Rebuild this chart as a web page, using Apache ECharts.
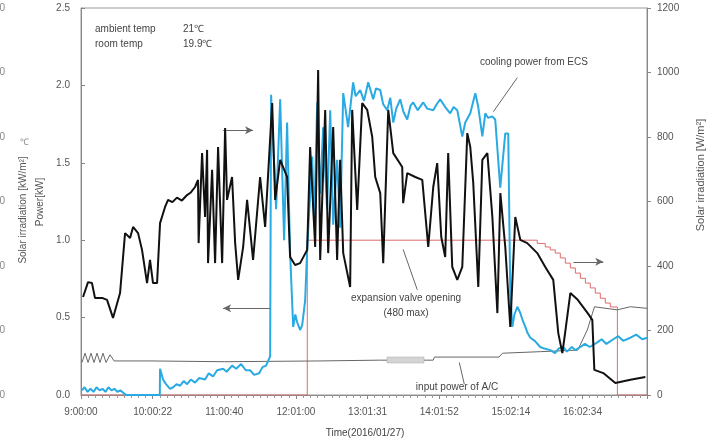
<!DOCTYPE html>
<html><head><meta charset="utf-8">
<script src="https://cdn.jsdelivr.net/npm/echarts@6/dist/echarts.min.js"></script>
<style>html,body{margin:0;padding:0;background:#fff}#c{width:715px;height:441px}</style>
</head><body><div id="c"></div>
<script>
// x values: minutes after 9:00:00
const timeLabels = ['9:00:00','10:00:22','11:00:40','12:01:00','13:01:31','14:01:52','15:02:14','16:02:34'];
const leftTicks = [0,0.5,1.0,1.5,2.0,2.5];
const rightTicks = [0,200,400,600,800,1000,1200];

// Solar irradiation [W/m2] (right axis)
const solarIrr = [[1.7,304],[5.9,350],[9.2,347],[11.7,301],[17.6,301],[21.8,295],[26.8,239],[32.7,316],[36.9,502],[41.1,487],[43.6,521],[47.8,502],[51.1,450],[55.3,347],[57.8,419],[60.3,347],[63.7,347],[66.2,533],[70.4,583],[72.9,605],[76.5,598],[80.4,612],[84.5,603],[88.8,620],[92,628],[95.5,645],[98.0,667],[98.5,471],[101.4,750],[103.9,552],[105.6,760],[106.4,409],[109.8,698],[112.3,409],[114.8,769],[118.2,409],[120.7,828],[122.3,605],[126.5,676],[129.1,471],[131.6,357],[135.8,459],[139.1,605],[144.1,419],[150.0,676],[154.2,521],[160.1,905],[162.6,605],[166.8,729],[172.6,676],[175.1,428],[179.3,403],[183.5,409],[189.4,450],[191.9,769],[196.1,459],[198.6,1008],[200.3,419],[204.5,884],[207.0,440],[211.2,831],[214.5,419],[217.0,729],[219.6,440],[225.4,335],[227.1,884],[231.3,574],[235.5,905],[239.7,884],[243.9,800],[246.4,676],[250.6,626],[253.1,409],[257.3,884],[261.5,750],[269.0,707],[269.8,595],[273.2,688],[279.9,676],[285.8,667],[290.8,459],[295.0,645],[298.3,719],[301.7,490],[305.0,428],[307.5,750],[310.9,397],[315.1,357],[319.3,397],[323.5,812],[326.0,769],[328.5,657],[332.7,335],[336.1,729],[340.3,750],[344.5,552],[348.7,254],[351.2,626],[355.3,459],[359.5,211],[363.7,552],[367.9,481],[373.7,471],[382.1,440],[388.8,397],[395.5,357],[399.7,192],[403.1,130],[405.4,192],[409.8,316],[416.0,295],[424.3,254],[428.2,233],[429.9,78],[437.4,68],[447.5,37],[460.1,47],[472.6,56]];

// Cooling power from ECS [kW] (left axis)
const coolingPower = [[0.8,0.03],[3,0.05],[5.5,0.02],[8,0.04],[10.5,0.02],[13,0.05],[15.5,0.03],[18,0.04],[20.5,0.02],[23,0.05],[25.5,0.03],[28,0.04],[30.5,0.02],[33,0.03],[36,0.01],[38,0.0],[66,0.0],[66.2,0.17],[68.7,0.10],[71.2,0.07],[74.6,0.04],[77.1,0.05],[80,0.07],[83.0,0.06],[86,0.09],[88.8,0.07],[92,0.10],[95.5,0.08],[99,0.11],[103.9,0.10],[107,0.14],[110.6,0.12],[114,0.16],[119.0,0.17],[122,0.15],[126.5,0.19],[130,0.17],[134.1,0.20],[138,0.16],[141.6,0.16],[145,0.13],[149.2,0.14],[152,0.18],[155.0,0.19],[158.4,0.25],[159.2,1.94],[163.4,1.2],[166.8,1.91],[170.1,1.0],[172.6,1.76],[175.1,0.92],[177.7,0.44],[179.5,0.52],[181.0,0.47],[183.5,0.42],[185.2,0.45],[187.7,0.61],[189.4,0.94],[191.9,1.3],[193.6,1.54],[195.3,1.1],[197.8,1.89],[200.3,1.3],[202.8,1.73],[206.1,1.2],[208.7,1.84],[211.2,1.1],[214.5,1.52],[217.0,1.08],[219.6,1.95],[223.7,1.73],[227.9,2.02],[230,1.93],[233.8,1.97],[237,1.90],[240.5,2.02],[244.7,1.91],[247,1.98],[250.6,1.97],[253,1.88],[256.4,1.84],[259,1.92],[261.5,1.76],[264,1.85],[267.3,1.91],[270,1.83],[273.2,1.78],[276,1.87],[278.2,1.89],[282,1.84],[286.6,1.89],[290,1.85],[295.0,1.84],[298,1.88],[300.8,1.91],[305,1.86],[309.2,1.82],[312,1.86],[315.1,1.84],[319.3,1.67],[321.8,1.76],[326.0,1.82],[330.2,1.95],[332.7,1.86],[336.1,1.67],[338.6,1.82],[341,1.79],[344.4,1.80],[346.9,1.78],[351.1,1.34],[355.3,1.69],[357.8,1.69],[359.5,0.66],[361.2,0.44],[363,0.52],[365.4,0.57],[367.9,0.53],[370,0.48],[372.1,0.44],[374,0.40],[376.3,0.37],[380,0.35],[384.6,0.31],[388,0.30],[393.0,0.29],[397,0.27],[400,0.30],[403.9,0.31],[407,0.28],[411,0.31],[414,0.29],[418.2,0.31],[422,0.33],[426,0.31],[432.4,0.34],[436,0.36],[440,0.33],[445.8,0.36],[450,0.38],[454,0.35],[460.1,0.37],[465,0.39],[470,0.36],[474.3,0.37]];

// Input power of A/C [kW] (left axis)
const inputPower = [[0.8,0.21],[3.4,0.27],[5.9,0.21],[8.4,0.27],[10.9,0.21],[13.4,0.27],[15.9,0.21],[18.4,0.27],[21.0,0.21],[24.3,0.26],[27.7,0.22],[32.7,0.22],[37.7,0.22],[58.7,0.22],[120,0.215],[200,0.22],[250,0.225],[295,0.225],[296,0.245],[350,0.245],[353,0.27],[385,0.28],[416,0.29],[424,0.42],[430,0.57],[449,0.55],[460,0.57],[474,0.56]];

// Expansion valve opening (480 max), right axis scale
const valveOpening = [[0,0],[189.5,0],[189.5,480],[373.7,480],[382.1,470],[388.8,459],[393.0,450],[397.2,440],[401.4,425],[405.6,409],[409.8,394],[414.0,378],[418.2,362],[422.4,347],[426.5,332],[430.7,316],[434.9,300],[439.1,285],[443.3,273],[449.2,264],[449.2,0],[474,0]];

const FONT = 'Liberation Sans, Arial, sans-serif';
const chart = echarts.init(document.getElementById('c'));

function seg(a, b, arrow) {
  return [{coord: a, symbol: 'none'}, {coord: b, symbol: arrow ? 'arrow' : 'none', symbolSize: arrow ? [6, 8] : 0}];
}

chart.setOption({
  animation: false,
  grid: {left: 81, right: 68, top: 8, bottom: 46, show: true, borderColor: '#999', borderWidth: 1,
         containLabel: false, outerBoundsMode: 'none'},
  xAxis: {
    type: 'value', min: 0, max: 474, interval: 60,
    axisLine: {lineStyle: {color: '#888'}},
    axisTick: {length: 4, lineStyle: {color: '#888'}},
    minorTick: {show: true, splitNumber: 10, length: 3, lineStyle: {color: '#999'}},
    splitLine: {show: false},
    axisLabel: {color: '#555', fontSize: 10, fontFamily: FONT, margin: 12,
      formatter: v => timeLabels[Math.round(v / 60)] || ''}
  },
  yAxis: [
    {type: 'value', position: 'left', min: 0, max: 2.5, interval: 0.5,
     axisLine: {show: true, lineStyle: {color: '#888'}},
     axisTick: {show: true, inside: true, length: 4, lineStyle: {color: '#888'}},
     splitLine: {show: false},
     axisLabel: {color: '#555', fontSize: 10, fontFamily: FONT, margin: 11,
       formatter: v => leftTicks.includes(v) ? v.toFixed(1) : ''}},
    {type: 'value', position: 'right', min: 0, max: 1200, interval: 200,
     axisLine: {show: true, lineStyle: {color: '#888'}},
     axisTick: {show: true, length: 4, lineStyle: {color: '#888'}},
     splitLine: {show: false},
     axisLabel: {color: '#555', fontSize: 10, fontFamily: FONT, margin: 10,
       formatter: v => rightTicks.includes(v) ? String(v) : ''}},
    {type: 'value', position: 'left', offset: 73, min: 0, max: 60, interval: 10,
     axisLine: {show: false}, axisTick: {show: false}, splitLine: {show: false},
     axisLabel: {color: '#888', fontSize: 10, fontFamily: FONT, margin: 3}}
  ],
  series: [
    {name: 'valve', type: 'line', yAxisIndex: 1, data: valveOpening, step: 'end', symbol: 'none',
     lineStyle: {color: '#e06a6a', width: 1}, z: 2},
    {name: 'input', type: 'line', yAxisIndex: 0, data: inputPower, symbol: 'none',
     lineStyle: {color: '#666', width: 1}, z: 3},
    {name: 'cooling', type: 'line', yAxisIndex: 0, data: coolingPower, symbol: 'none',
     lineStyle: {color: '#2aaae2', width: 2}, z: 4,
     markLine: {silent: true, animation: false, label: {show: false},
       lineStyle: {color: '#666', width: 1, type: 'solid'},
       data: [
         seg([119.0, 1.71], [144.1, 1.71], true),
         seg([158.4, 0.56], [119.0, 0.56], true),
         seg([412.3, 0.86], [437.4, 0.86], true),
         seg([365.4, 2.05], [345.3, 1.83], false),
         seg([281.6, 0.68], [269.8, 0.94], false),
         seg([316.8, 0.21], [321.0, 0.07], false)
       ]}},
    {name: 'solar', type: 'line', yAxisIndex: 1, data: solarIrr, symbol: 'none',
     lineStyle: {color: '#111', width: 2}, z: 5}
  ],
  graphic: [
    {type: 'text', left: 95, top: 24, style: {text: 'ambient temp', fontSize: 10, fontFamily: FONT, fill: '#444'}},
    {type: 'text', left: 183, top: 24, style: {text: '21℃', fontSize: 10, fontFamily: FONT, fill: '#444'}},
    {type: 'text', left: 95, top: 39, style: {text: 'room temp', fontSize: 10, fontFamily: FONT, fill: '#444'}},
    {type: 'text', left: 183, top: 39, style: {text: '19.9℃', fontSize: 10, fontFamily: FONT, fill: '#444'}},
    {type: 'text', left: 480, top: 57, style: {text: 'cooling power from ECS', fontSize: 10, fontFamily: FONT, fill: '#444'}},
    {type: 'text', x: 406, y: 298, style: {text: 'expansion valve opening', fontSize: 10, fontFamily: FONT, fill: '#444', textAlign: 'center', textVerticalAlign: 'middle'}},
    {type: 'text', x: 406, y: 313, style: {text: '(480 max)', fontSize: 10, fontFamily: FONT, fill: '#444', textAlign: 'center', textVerticalAlign: 'middle'}},
    {type: 'text', x: 457, y: 387, style: {text: 'input power of A/C', fontSize: 10, fontFamily: FONT, fill: '#444', textAlign: 'center', textVerticalAlign: 'middle'}},
    {type: 'text', x: 365, y: 433, style: {text: 'Time(2016/01/27)', fontSize: 10, fontFamily: FONT, fill: '#444', textAlign: 'center', textVerticalAlign: 'middle'}},
    {type: 'rect', shape: {x: 387, y: 357, width: 37, height: 6}, style: {fill: '#d4d4d4', stroke: '#aaa', lineWidth: 0.5}, z: 10},
    {type: 'text', x: 23, y: 210, rotation: Math.PI / 2, style: {text: 'Solar irradiation [kW/m²]', fontSize: 10, fontFamily: FONT, fill: '#555', textAlign: 'center', textVerticalAlign: 'middle'}},
    {type: 'text', x: 40, y: 202, rotation: Math.PI / 2, style: {text: 'Power[kW]', fontSize: 10, fontFamily: FONT, fill: '#555', textAlign: 'center', textVerticalAlign: 'middle'}},
    {type: 'text', x: 701, y: 175, rotation: Math.PI / 2, style: {text: 'Solar irradiation [W/m²]', fontSize: 11, fontFamily: FONT, fill: '#555', textAlign: 'center', textVerticalAlign: 'middle'}},
    {type: 'text', left: 20, top: 138, style: {text: '℃', fontSize: 9, fontFamily: FONT, fill: '#888'}}
  ]
});
</script></body></html>
